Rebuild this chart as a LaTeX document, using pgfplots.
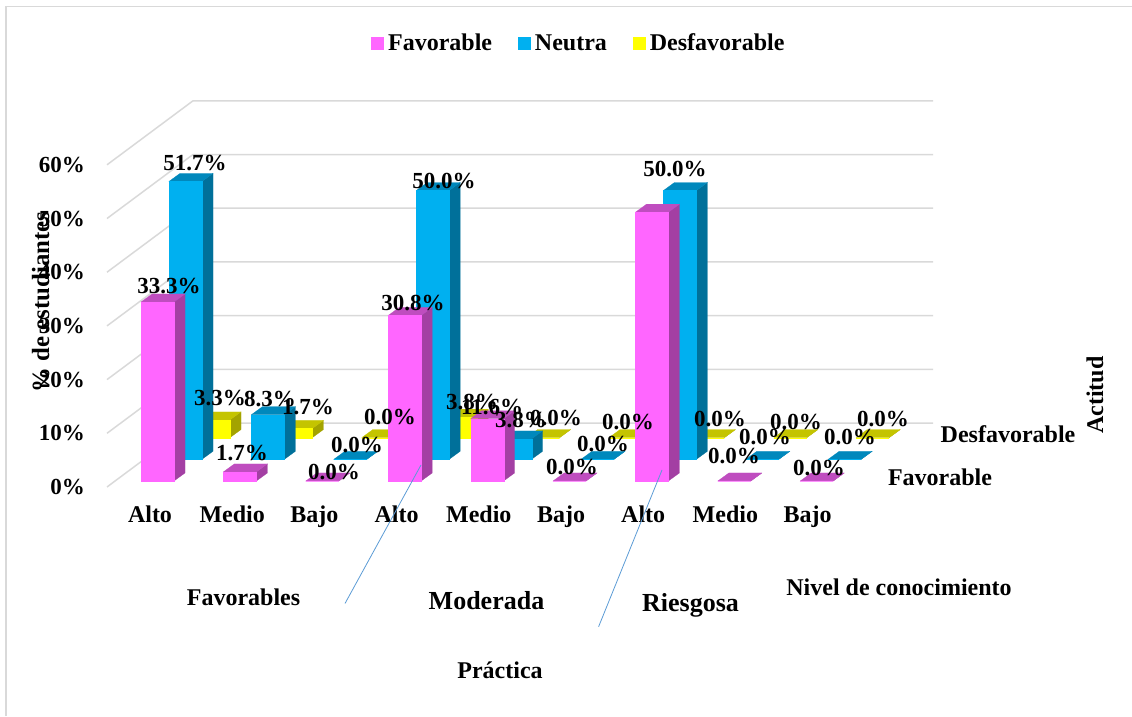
\documentclass[border=0pt]{standalone}
\usepackage{pgfplots}
\pgfplotsset{compat=1.18}
\usepackage{fontspec}
\setmainfont{Liberation Serif}

\definecolor{favF}{HTML}{FF66FF}
\definecolor{favS}{HTML}{A33FA3}
\definecolor{favT}{HTML}{BF4DBF}
\definecolor{neuF}{HTML}{00B0F0}
\definecolor{neuS}{HTML}{00709A}
\definecolor{neuT}{HTML}{0088BC}
\definecolor{desF}{HTML}{FFFF00}
\definecolor{desS}{HTML}{A3A300}
\definecolor{desT}{HTML}{C4C400}
\definecolor{gridc}{HTML}{D9D9D9}
\definecolor{leader}{HTML}{5B9BD5}

% Vertical position on the sheet expressed in axis units
\newcommand{\Y}[1]{{(481-#1)/5.375}}

% One oblique 3D column: group index, depth row, value, colour prefix
\newcommand{\threedbar}[4]{%
  \addplot[forget plot,fill=#4S,draw=#4S,line width=0.2pt] coordinates {
    ({141+82.4*#1+28*#2+33},{4.037*#2})
    ({141+82.4*#1+28*#2+44},{4.037*#2+1.49})
    ({141+82.4*#1+28*#2+44},{4.037*#2+1.49+#3})
    ({141+82.4*#1+28*#2+33},{4.037*#2+#3})} --cycle;
  \addplot[forget plot,fill=#4T,draw=#4T,line width=0.2pt] coordinates {
    ({141+82.4*#1+28*#2},{4.037*#2+#3})
    ({141+82.4*#1+28*#2+33},{4.037*#2+#3})
    ({141+82.4*#1+28*#2+44},{4.037*#2+1.49+#3})
    ({141+82.4*#1+28*#2+11},{4.037*#2+1.49+#3})} --cycle;
  \addplot[forget plot,fill=#4F,draw=#4F,line width=0.2pt] coordinates {
    ({141+82.4*#1+28*#2},{4.037*#2})
    ({141+82.4*#1+28*#2+33},{4.037*#2})
    ({141+82.4*#1+28*#2+33},{4.037*#2+#3})
    ({141+82.4*#1+28*#2},{4.037*#2+#3})} --cycle;
}

% Back wall line and its diagonal on the side wall
\newcommand{\wall}[1]{%
  \addplot[forget plot,gridc,line width=1.5pt,mark=none] coordinates {
    (107,{-1.116+9.99*#1}) (193,{10.79+9.99*#1}) (933,{10.79+9.99*#1})};
}

% Value label
\newcommand{\val}[3]{\node[font=\bfseries\fontsize{23}{25}\selectfont,inner sep=0pt] at (axis cs:#1,\Y{#2}) {#3\%};}
% Free text
\newcommand{\txt}[4]{\node[font=\bfseries\fontsize{#4}{#4}\selectfont,inner sep=0pt] at (axis cs:#1,\Y{#2}) {#3};}

\begin{document}
\begin{tikzpicture}
\useasboundingbox (0,0) rectangle (1132pt,716pt);
\begin{axis}[
  at={(0,0)},anchor=south west,
  scale only axis,width=1132pt,height=716pt,
  xmin=0,xmax=1132,ymin=-43.7209,ymax=89.4884,
  clip=false,
  axis line style={draw=none},
  tick style={draw=none},
  xtick={150,232.2,314.4,396.6,478.8,561,643.2,725.4,807.6},
  xticklabels={Alto,Medio,Bajo,Alto,Medio,Bajo,Alto,Medio,Bajo},
  xticklabel style={font=\bfseries\fontsize{24}{26}\selectfont,anchor=base,yshift=194pt},
  ytick={-1.116,8.874,18.864,28.854,38.844,48.834,58.824},
  yticklabels={0\%,10\%,20\%,30\%,40\%,50\%,60\%},
  yticklabel style={font=\bfseries\fontsize{23}{25}\selectfont,anchor=east,xshift=85pt,inner sep=0pt},
  legend style={at={(axis cs:371,\Y{43})},anchor=west,draw=none,fill=none,inner sep=0pt,
    font=\bfseries\fontsize{24}{25}\selectfont,
    legend columns=3,
    nodes={text height=16pt,text depth=0pt},
    /tikz/every odd column/.append style={column sep=2.5pt},
    /tikz/every even column/.append style={column sep=24pt}},
  legend image code/.code={\fill[#1] (0pt,-6pt) rectangle (12pt,6pt);},
]
\addlegendimage{favF}\addlegendentry{Favorable}
\addlegendimage{neuF}\addlegendentry{Neutra}
\addlegendimage{desF}\addlegendentry{Desfavorable}

% chart frame
\addplot[forget plot,gridc,line width=1.8pt,mark=none] coordinates {(5.6,\Y{716}) (5.6,\Y{6.5}) (1132,\Y{6.5})};

\wall{0}\wall{1}\wall{2}\wall{3}\wall{4}\wall{5}\wall{6}

% Desfavorable row
\threedbar{0}{2}{3.3}{des}
\threedbar{1}{2}{1.7}{des}
\threedbar{2}{2}{0.0}{des}
\threedbar{3}{2}{3.8}{des}
\threedbar{4}{2}{0.0}{des}
\threedbar{5}{2}{0.0}{des}
\threedbar{6}{2}{0.0}{des}
\threedbar{7}{2}{0.0}{des}
\threedbar{8}{2}{0.0}{des}
% Neutra row
\threedbar{0}{1}{51.7}{neu}
\threedbar{1}{1}{8.3}{neu}
\threedbar{2}{1}{0.0}{neu}
\threedbar{3}{1}{50.0}{neu}
\threedbar{4}{1}{3.8}{neu}
\threedbar{5}{1}{0.0}{neu}
\threedbar{6}{1}{50.0}{neu}
\threedbar{7}{1}{0.0}{neu}
\threedbar{8}{1}{0.0}{neu}
% Favorable row
\threedbar{0}{0}{33.3}{fav}
\threedbar{1}{0}{1.7}{fav}
\threedbar{2}{0}{0.0}{fav}
\threedbar{3}{0}{30.8}{fav}
\threedbar{4}{0}{11.6}{fav}
\threedbar{5}{0}{0.0}{fav}
\threedbar{6}{0}{50.0}{fav}
\threedbar{7}{0}{0.0}{fav}
\threedbar{8}{0}{0.0}{fav}

% leader lines
\addplot[forget plot,leader,line width=0.8pt,mark=none] coordinates {(345,\Y{603.5}) (421,\Y{465})};
\addplot[forget plot,leader,line width=0.8pt,mark=none] coordinates {(598.6,\Y{626.7}) (662,\Y{470})};

% value labels
\val{169}{286}{33.3}
\val{242}{453}{1.7}
\val{334}{472}{0.0}
\val{413}{303}{30.8}
\val{492}{407}{11.6}
\val{572}{467}{0.0}
\val{734}{456}{0.0}
\val{819}{468}{0.0}
\val{195}{163}{51.7}
\val{270}{399}{8.3}
\val{357}{445}{0.0}
\val{444}{181}{50.0}
\val{521}{420}{3.8}
\val{603}{444}{0.0}
\val{675}{169}{50.0}
\val{765}{437}{0.0}
\val{850}{437}{0.0}
\val{220}{398}{3.3}
\val{308}{407}{1.7}
\val{390}{417}{0.0}
\val{472}{402}{3.8}
\val{556}{418}{0.0}
\val{628}{422}{0.0}
\val{720}{419}{0.0}
\val{796}{422}{0.0}
\val{883}{419}{0.0}

% axis titles and group names
\txt{243.5}{597}{Favorables}{24}
\txt{486.5}{601}{Moderada}{26}
\txt{690.5}{605}{Riesgosa}{26}
\txt{899}{587}{Nivel de conocimiento}{24}
\txt{500}{670}{Práctica}{24}
\txt{1008}{434}{Desfavorable}{24}
\txt{940}{477}{Favorable}{24}
\node[font=\bfseries\fontsize{24}{24}\selectfont,rotate=90,anchor=base,inner sep=0pt] at (axis cs:1103,\Y{395}) {Actitud};
\node[font=\bfseries\fontsize{24.8}{24.8}\selectfont,rotate=90,anchor=base,inner sep=0pt] at (axis cs:49,\Y{302}) {\% de estudiantes};
\end{axis}
\end{tikzpicture}
\end{document}
